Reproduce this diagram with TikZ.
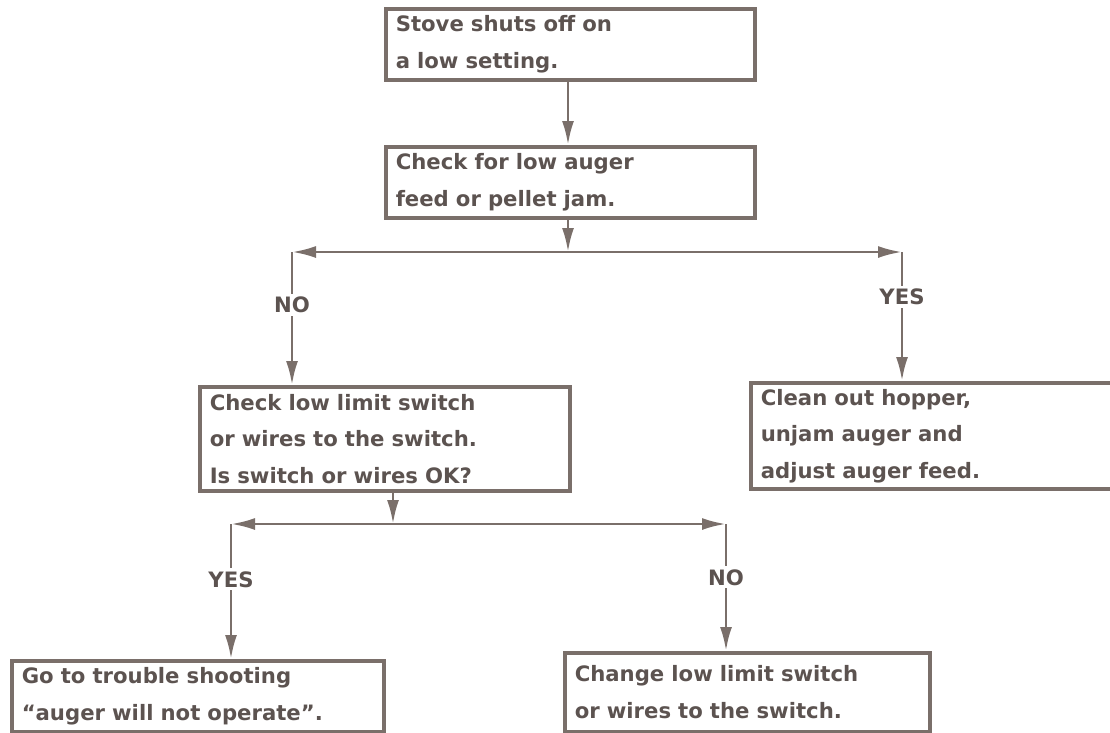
\documentclass[tikz,border=0pt]{standalone}
\usepackage{fontspec}
\setmainfont{DejaVu Sans}
\usetikzlibrary{arrows.meta}
\definecolor{ink}{HTML}{7A6F6A}
\definecolor{txt}{HTML}{5C5350}
\begin{document}
\begin{tikzpicture}[x=1pt,y=-1pt,
  box/.style={draw=ink, line width=3.5pt, rectangle, anchor=north west,
    inner xsep=10pt, inner ysep=0pt, align=left,
    font=\fontsize{21.2}{36.5}\selectfont\bfseries, text=txt},
  arr/.style={draw=ink, line width=2.8pt, -{Latex[length=24pt,width=12pt]}},
  lbl/.style={fill=white, inner sep=3pt, font=\fontsize{21.2}{24}\selectfont\bfseries, text=txt}]
\useasboundingbox (0,0) rectangle (1110,732);

\node[box, minimum width=369pt, minimum height=71pt, text width=349pt] (b1) at (384,7)
  {Stove shuts off on\\a low setting.};
\node[box, minimum width=369pt, minimum height=71pt, text width=349pt] (b2) at (384,145)
  {Check for low auger\\feed or pellet jam.};
\node[box, minimum width=370pt, minimum height=104pt, text width=350pt] (b3) at (198,385)
  {Check low limit switch\\or wires to the switch.\\Is switch or wires OK?};
\node[box, minimum width=372pt, minimum height=106pt, text width=352pt] (b4) at (749,381)
  {Clean out hopper,\\unjam auger and\\adjust auger feed.};
\node[box, minimum width=372pt, minimum height=71pt, text width=352pt] (b5) at (10,659)
  {Go to trouble shooting\\“auger will not operate”.};
\node[box, minimum width=365pt, minimum height=79pt, text width=345pt] (b6) at (563,651)
  {Change low limit switch\\or wires to the switch.};

\coordinate (s1) at (568,252);
\coordinate (l1) at (292,252);
\coordinate (r1) at (902,252);
\coordinate (s2) at (393,524);
\coordinate (l2) at (231,524);
\coordinate (r2) at (726,524);

\draw[arr] (s1 |- b1.south) -- (s1 |- b2.north);
\draw[arr] (s1 |- b2.south) -- (s1);
\draw[arr] (s1) -- (l1);
\draw[arr] (s1) -- (r1);
\draw[arr] (l1) -- node[lbl, pos=0.4] {NO} (l1 |- b3.north);
\draw[arr] (r1) -- node[lbl, pos=0.35] {YES} (r1 |- b4.north);

\draw[arr] (s2 |- b3.south) -- (s2);
\draw[arr] (s2) -- (l2);
\draw[arr] (s2) -- (r2);
\draw[arr] (l2) -- node[lbl, pos=0.41] {YES} (l2 |- b5.north);
\draw[arr] (r2) -- node[lbl, pos=0.42] {NO} (r2 |- b6.north);
\end{tikzpicture}
\end{document}
